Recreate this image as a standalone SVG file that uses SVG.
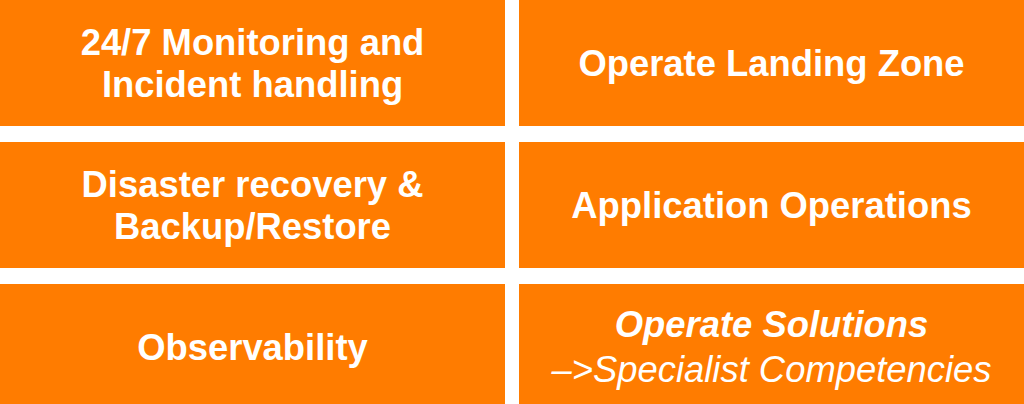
<svg xmlns="http://www.w3.org/2000/svg" width="1024" height="404" viewBox="0 0 1024 404">
<style>
.box{fill:#FF7C00}
.t{font-family:"Liberation Sans",Arial,sans-serif;font-size:36.4px;font-weight:bold;fill:#FFFFFF;text-anchor:middle}
.i{font-style:italic}
.n{font-weight:normal}
</style>
<rect width="1024" height="404" fill="#FFFFFF"/>
<g id="n1"><rect class="box" x="0" y="0" width="505" height="126"/>
<text class="t" x="252.5" y="55">24/7 Monitoring and</text>
<text class="t" x="252.5" y="97">Incident handling</text></g>
<g id="n2"><rect class="box" x="519" y="0" width="505" height="126"/>
<text class="t" x="771.5" y="76">Operate Landing Zone</text></g>
<g id="n3"><rect class="box" x="0" y="142" width="505" height="126"/>
<text class="t" x="252.5" y="197">Disaster recovery &amp;</text>
<text class="t" x="252.5" y="239">Backup/Restore</text></g>
<g id="n4"><rect class="box" x="519" y="142" width="505" height="126"/>
<text class="t" x="771.5" y="218">Application Operations</text></g>
<g id="n5"><rect class="box" x="0" y="284" width="505" height="120"/>
<text class="t" x="252.5" y="360">Observability</text></g>
<g id="n6"><rect class="box" x="519" y="284" width="505" height="120"/>
<text class="t i" x="771.5" y="337">Operate Solutions</text>
<text class="t i n" x="771.5" y="382">–&gt;Specialist Competencies</text></g>
<g id="connectors"></g>
</svg>
